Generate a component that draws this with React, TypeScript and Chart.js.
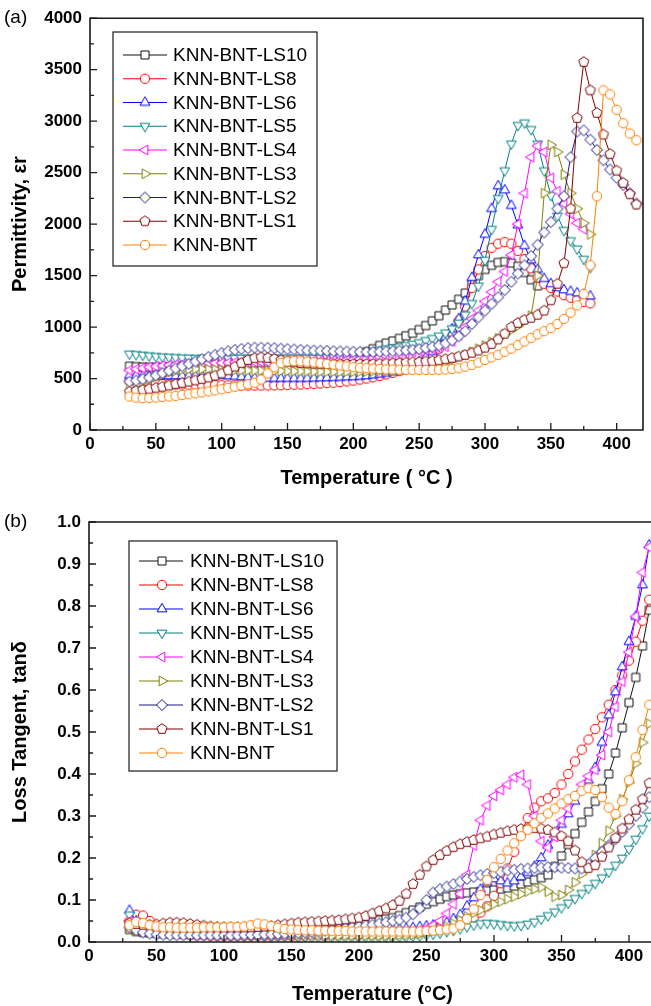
import React, { useEffect, useRef } from 'react';
import { Chart, registerables } from 'chart.js';

Chart.register(...registerables);

// ---------- DATA ----------
const TEMPS = [
  30, 35, 40, 45, 50, 55, 60, 65, 70, 75,
  80, 85, 90, 95, 100, 105, 110, 115, 120, 125,
  130, 135, 140, 145, 150, 155, 160, 165, 170, 175,
  180, 185, 190, 195, 200, 205, 210, 215, 220, 225,
  230, 235, 240, 245, 250, 255, 260, 265, 270, 275,
  280, 285, 290, 295, 300, 305, 310, 315, 320, 325,
  330, 335, 340, 345, 350, 355, 360, 365, 370, 375,
  380, 385, 390, 395, 400, 405, 410, 415,
];

const X_TICKS = [0, 50, 100, 150, 200, 250, 300, 350, 400];

const SERIES_LABELS = [
  'KNN-BNT-LS10', 'KNN-BNT-LS8', 'KNN-BNT-LS6', 'KNN-BNT-LS5', 'KNN-BNT-LS4',
  'KNN-BNT-LS3', 'KNN-BNT-LS2', 'KNN-BNT-LS1', 'KNN-BNT',
];
const SERIES_COLORS = [
  '#111111', '#FF0000', '#0000FF', '#008080', '#FF00FF',
  '#808000', '#1a1a8c', '#800000', '#FF8000',
];
const SERIES_SHAPES = [
  'square', 'circle', 'up', 'down', 'left', 'right', 'diamond', 'pentagon', 'circle',
];

// (a) Permittivity, values at TEMPS[0..]
const PERM_LS10 = [
  620, 615, 612, 610, 610, 610, 612, 615, 618, 620,
  625, 630, 632, 635, 640, 642, 645, 648, 650, 652,
  655, 657, 660, 662, 665, 667, 670, 672, 675, 678,
  682, 688, 695, 705, 718, 735, 760, 790, 822, 845,
  865, 890, 915, 940, 975, 1015, 1060, 1110, 1165, 1215,
  1270, 1330, 1420, 1500, 1560, 1600, 1628, 1635, 1622, 1590,
  1530, 1460, 1400,
];
const PERM_LS8 = [
  480, 470, 462, 455, 450, 447, 445, 443, 442, 440,
  440, 438, 437, 436, 435, 434, 433, 432, 432, 432,
  432, 433, 434, 435, 437, 440, 442, 445, 448, 452,
  456, 460, 466, 472, 480, 490, 500, 512, 525, 540,
  555, 572, 590, 612, 640, 680, 730, 790, 860, 950,
  1060, 1200, 1380, 1560, 1690, 1770, 1810, 1825, 1810, 1740,
  1660, 1570, 1480, 1420, 1380, 1345, 1310, 1285, 1262, 1245,
  1230,
];
const PERM_LS6 = [
  530, 528, 526, 525, 524, 524, 524, 524, 524, 524,
  525, 528, 530, 530, 528, 524, 520, 515, 510, 505,
  502, 500, 500, 500, 500, 500, 500, 500, 502, 504,
  506, 508, 510, 513, 516, 520, 525, 532, 540, 550,
  562, 578, 598, 625, 660, 705, 760, 830, 900, 980,
  1080, 1250, 1480, 1700, 1900, 2150, 2370, 2330, 2180, 1990,
  1790, 1650, 1560, 1470, 1420, 1380, 1360, 1345, 1330, 1315,
  1300,
];
const PERM_LS5 = [
  740, 735, 728, 722, 716, 712, 708, 705, 702, 700,
  698, 697, 696, 696, 696, 697, 698, 700, 700, 700,
  700, 700, 700, 700, 700, 700, 700, 700, 700, 702,
  705, 708, 712, 718, 725, 735, 748, 762, 778, 790,
  800, 810, 822, 835, 850, 870, 890, 915, 945, 985,
  1040, 1120, 1230, 1400, 1650, 1950, 2250, 2520, 2780, 2960,
  2985, 2920, 2780, 2520, 2280, 2080, 1940, 1840, 1760, 1660,
  1580,
];
const PERM_LS4 = [
  580, 590, 600, 610, 618, 625, 630, 635, 638, 640,
  642, 645, 648, 650, 652, 654, 656, 657, 658, 660,
  660, 660, 660, 660, 660, 662, 664, 666, 668, 670,
  672, 675, 678, 682, 686, 690, 695, 702, 710, 718,
  726, 735, 745, 755, 765, 775, 785, 795, 810, 860,
  920, 1000, 1080, 1160, 1250, 1340, 1440, 1540, 1700, 2000,
  2300, 2650, 2760, 2700, 2450, 2320, 2200, 2100, 2010, 1950,
];
const PERM_LS3 = [
  420, 440, 465, 490, 515, 540, 560, 575, 585, 590,
  592, 592, 590, 588, 585, 583, 582, 580, 578, 577,
  576, 575, 574, 573, 572, 571, 570, 569, 568, 567,
  566, 566, 566, 566, 566, 567, 568, 570, 572, 575,
  578, 582, 586, 592, 600, 612, 625, 640, 660, 680,
  705, 730, 760, 790, 820, 855, 890, 930, 970, 1010,
  1060, 1110, 1500, 2300, 2770, 2700, 2480, 2300, 2150, 2010,
  1900,
];
const PERM_LS2 = [
  470, 480, 495, 510, 530, 552, 575, 598, 620, 642,
  665, 688, 710, 730, 748, 765, 778, 788, 795, 800,
  800, 798, 795, 790, 786, 782, 778, 775, 772, 770,
  768, 766, 764, 762, 760, 759, 758, 758, 760, 763,
  766, 770, 774, 779, 786, 796, 808, 822, 842, 870,
  910, 960, 1030, 1095, 1160, 1225, 1290, 1360, 1440, 1520,
  1600, 1690, 1800, 1920, 2020, 2150, 2270, 2650, 2900, 2910,
  2820, 2720, 2620, 2530, 2450, 2380, 2300, 2200,
];
const PERM_LS1 = [
  372, 380, 390, 400, 410, 420, 432, 445, 458, 470,
  482, 495, 510, 528, 550, 580, 615, 650, 680, 698,
  705, 700, 690, 678, 666, 658, 652, 648, 645, 643,
  642, 641, 640, 640, 640, 640, 641, 642, 644, 646,
  648, 651, 654, 657, 660, 665, 670, 678, 688, 700,
  714, 730, 750, 772, 800, 835, 880, 935, 1000, 1040,
  1070, 1090, 1120, 1160, 1260, 1420, 1620, 2150, 3030, 3575,
  3300, 3080, 2870, 2680, 2520, 2400, 2290, 2190,
];
const PERM_KNN = [
  325, 315, 310, 310, 315, 320, 326, 332, 340, 348,
  356, 365, 375, 385, 396, 408, 420, 432, 445, 460,
  490, 550, 610, 650, 665, 670, 668, 664, 658, 650,
  642, 634, 626, 618, 610, 604, 600, 596, 592, 590,
  588, 586, 585, 584, 584, 584, 584, 585, 588, 593,
  600, 615, 632, 655, 680, 705, 730, 760, 790, 825,
  860, 895, 930, 960, 990, 1030, 1080, 1140, 1210, 1320,
  1600, 2270, 3300, 3260, 3110, 2980, 2880, 2815,
];

// (b) Loss tangent, values at TEMPS[0..]
const TAN_LS10 = [
  0.030, 0.025, 0.023, 0.022, 0.021, 0.020, 0.020, 0.019, 0.019, 0.019,
  0.019, 0.019, 0.019, 0.019, 0.019, 0.019, 0.019, 0.019, 0.019, 0.020,
  0.020, 0.020, 0.021, 0.021, 0.022, 0.022, 0.023, 0.024, 0.025, 0.026,
  0.028, 0.030, 0.033, 0.036, 0.040, 0.044, 0.048, 0.052, 0.055, 0.058,
  0.063, 0.070, 0.076, 0.083, 0.090, 0.096, 0.102, 0.108, 0.112, 0.115,
  0.117, 0.119, 0.120, 0.122, 0.124, 0.126, 0.129, 0.133, 0.138, 0.143,
  0.148, 0.153, 0.160, 0.180, 0.205, 0.232, 0.258, 0.285, 0.310, 0.335,
  0.365, 0.400, 0.450, 0.510, 0.570, 0.630, 0.705, 0.790,
];
const TAN_LS8 = [
  0.050, 0.065, 0.063, 0.050, 0.038, 0.030, 0.024, 0.020, 0.018, 0.017,
  0.016, 0.016, 0.015, 0.015, 0.015, 0.015, 0.015, 0.015, 0.015, 0.015,
  0.015, 0.015, 0.015, 0.015, 0.015, 0.015, 0.015, 0.016, 0.016, 0.016,
  0.017, 0.017, 0.018, 0.018, 0.019, 0.019, 0.020, 0.020, 0.021, 0.022,
  0.022, 0.023, 0.024, 0.025, 0.026, 0.027, 0.029, 0.032, 0.036, 0.040,
  0.048, 0.058, 0.070, 0.085, 0.110, 0.140, 0.175, 0.215, 0.260, 0.295,
  0.320, 0.335, 0.342, 0.355, 0.375, 0.400, 0.430, 0.458, 0.482, 0.507,
  0.535, 0.565, 0.600, 0.635, 0.670, 0.715, 0.765, 0.815,
];
const TAN_LS6 = [
  0.075, 0.050, 0.035, 0.028, 0.025, 0.023, 0.022, 0.021, 0.020, 0.020,
  0.019, 0.019, 0.019, 0.018, 0.018, 0.018, 0.018, 0.018, 0.018, 0.018,
  0.018, 0.018, 0.018, 0.018, 0.019, 0.019, 0.019, 0.020, 0.020, 0.021,
  0.021, 0.022, 0.023, 0.024, 0.025, 0.026, 0.027, 0.028, 0.029, 0.030,
  0.031, 0.032, 0.034, 0.036, 0.038, 0.040, 0.042, 0.046, 0.055, 0.065,
  0.085, 0.105, 0.125, 0.142, 0.150, 0.145, 0.140, 0.145, 0.155, 0.165,
  0.180, 0.200, 0.230, 0.255, 0.280, 0.305, 0.335, 0.365, 0.385, 0.415,
  0.475, 0.540, 0.595, 0.655, 0.715, 0.775, 0.850, 0.945,
];
const TAN_LS5 = [
  0.065, 0.050, 0.040, 0.033, 0.028, 0.025, 0.023, 0.021, 0.020, 0.019,
  0.018, 0.018, 0.017, 0.017, 0.016, 0.016, 0.016, 0.015, 0.015, 0.015,
  0.015, 0.014, 0.014, 0.014, 0.014, 0.013, 0.013, 0.013, 0.013, 0.013,
  0.013, 0.013, 0.013, 0.013, 0.013, 0.013, 0.013, 0.013, 0.013, 0.013,
  0.013, 0.013, 0.014, 0.015, 0.017, 0.019, 0.022, 0.025, 0.028, 0.032,
  0.037, 0.041, 0.044, 0.045, 0.044, 0.042, 0.040, 0.039, 0.040, 0.043,
  0.048, 0.055, 0.063, 0.072, 0.082, 0.093, 0.104, 0.116, 0.128, 0.140,
  0.153, 0.167, 0.183, 0.200, 0.222, 0.245, 0.270, 0.300,
];
const TAN_LS4 = [
  0.050, 0.045, 0.038, 0.032, 0.027, 0.023, 0.021, 0.020, 0.019, 0.019,
  0.019, 0.019, 0.019, 0.019, 0.019, 0.019, 0.019, 0.019, 0.019, 0.019,
  0.019, 0.019, 0.019, 0.019, 0.019, 0.019, 0.019, 0.019, 0.019, 0.019,
  0.020, 0.020, 0.020, 0.020, 0.020, 0.021, 0.021, 0.022, 0.022, 0.023,
  0.024, 0.025, 0.026, 0.028, 0.032, 0.040, 0.050, 0.068, 0.090, 0.115,
  0.160, 0.230, 0.290, 0.325, 0.348, 0.362, 0.375, 0.392, 0.398, 0.375,
  0.300, 0.240, 0.225, 0.250, 0.290, 0.318, 0.350, 0.375, 0.395, 0.410,
  0.445, 0.500, 0.560, 0.620, 0.690, 0.775, 0.880, 0.940,
];
const TAN_LS3 = [
  0.030, 0.028, 0.026, 0.025, 0.024, 0.023, 0.022, 0.021, 0.021, 0.020,
  0.020, 0.020, 0.020, 0.019, 0.019, 0.019, 0.019, 0.018, 0.018, 0.018,
  0.018, 0.017, 0.017, 0.017, 0.017, 0.016, 0.016, 0.016, 0.016, 0.015,
  0.015, 0.015, 0.015, 0.015, 0.015, 0.015, 0.015, 0.015, 0.015, 0.015,
  0.016, 0.016, 0.017, 0.019, 0.022, 0.026, 0.031, 0.037, 0.044, 0.052,
  0.061, 0.069, 0.076, 0.083, 0.090, 0.096, 0.102, 0.108, 0.114, 0.120,
  0.126, 0.130, 0.120, 0.108, 0.112, 0.124, 0.142, 0.162, 0.183, 0.207,
  0.235, 0.265, 0.300, 0.340, 0.380, 0.425, 0.475, 0.520,
];
const TAN_LS2 = [
  0.035, 0.028, 0.023, 0.020, 0.018, 0.017, 0.016, 0.016, 0.016, 0.016,
  0.016, 0.016, 0.016, 0.016, 0.016, 0.016, 0.016, 0.017, 0.017, 0.017,
  0.018, 0.018, 0.019, 0.020, 0.021, 0.022, 0.023, 0.024, 0.025, 0.027,
  0.029, 0.031, 0.033, 0.035, 0.037, 0.039, 0.041, 0.044, 0.047, 0.050,
  0.053, 0.058, 0.066, 0.080, 0.100, 0.118, 0.126, 0.132, 0.138, 0.144,
  0.150, 0.155, 0.159, 0.162, 0.164, 0.167, 0.170, 0.172, 0.174, 0.175,
  0.176, 0.177, 0.178, 0.178, 0.177, 0.176, 0.175, 0.175, 0.185, 0.200,
  0.215, 0.230, 0.245, 0.262, 0.280, 0.300, 0.320, 0.345,
];
const TAN_LS1 = [
  0.045, 0.043, 0.041, 0.041, 0.042, 0.044, 0.046, 0.046, 0.045, 0.043,
  0.041, 0.039, 0.037, 0.036, 0.035, 0.035, 0.035, 0.035, 0.035, 0.036,
  0.037, 0.038, 0.040, 0.042, 0.044, 0.046, 0.047, 0.048, 0.049, 0.050,
  0.051, 0.052, 0.054, 0.056, 0.058, 0.062, 0.068, 0.074, 0.080, 0.088,
  0.098, 0.115, 0.138, 0.160, 0.180, 0.195, 0.207, 0.217, 0.226, 0.233,
  0.238, 0.243, 0.247, 0.251, 0.256, 0.260, 0.264, 0.267, 0.269, 0.270,
  0.271, 0.270, 0.267, 0.261, 0.252, 0.240, 0.218, 0.190, 0.176, 0.183,
  0.203, 0.225, 0.248, 0.270, 0.292, 0.315, 0.340, 0.378,
];
const TAN_KNN = [
  0.040, 0.048, 0.045, 0.040, 0.037, 0.035, 0.035, 0.034, 0.034, 0.034,
  0.034, 0.035, 0.035, 0.035, 0.035, 0.036, 0.036, 0.037, 0.040, 0.044,
  0.042, 0.038, 0.034, 0.031, 0.030, 0.029, 0.028, 0.028, 0.027, 0.027,
  0.026, 0.026, 0.026, 0.025, 0.025, 0.025, 0.025, 0.025, 0.025, 0.025,
  0.025, 0.025, 0.025, 0.025, 0.026, 0.027, 0.028, 0.030, 0.032, 0.040,
  0.055, 0.078, 0.112, 0.148, 0.178, 0.198, 0.218, 0.235, 0.252, 0.267,
  0.283, 0.295, 0.306, 0.318, 0.330, 0.340, 0.348, 0.360, 0.366, 0.362,
  0.345, 0.320, 0.305, 0.335, 0.385, 0.440, 0.505, 0.565,
];

const PERM_SERIES = [PERM_LS10, PERM_LS8, PERM_LS6, PERM_LS5, PERM_LS4, PERM_LS3, PERM_LS2, PERM_LS1, PERM_KNN];
const TAN_SERIES = [TAN_LS10, TAN_LS8, TAN_LS6, TAN_LS5, TAN_LS4, TAN_LS3, TAN_LS2, TAN_LS1, TAN_KNN];

const X_MIN = 0;
const X_MAX = 420;
const X_STEP = 50;
const PERM_MAX = 4000;
const PERM_STEP = 500;
const TAN_MAX = 1.0;
const TAN_STEP = 0.1;

const FONT = '"Liberation Sans", Arial, Helvetica, sans-serif';

// ---------- MARKERS ----------
function makeMarker(shape: string, color: string): HTMLCanvasElement {
  const s = 14;
  const c = document.createElement('canvas');
  c.width = s;
  c.height = s;
  const ctx = c.getContext('2d')!;
  const cx = s / 2;
  const cy = s / 2;
  ctx.lineWidth = 1;
  ctx.strokeStyle = color;
  ctx.fillStyle = '#ffffff';
  ctx.beginPath();
  const poly = (n: number, r: number, startDeg: number) => {
    for (let k = 0; k < n; k++) {
      const a = ((startDeg + (360 / n) * k) * Math.PI) / 180;
      const px = cx + r * Math.cos(a);
      const py = cy + r * Math.sin(a);
      if (k === 0) ctx.moveTo(px, py);
      else ctx.lineTo(px, py);
    }
    ctx.closePath();
  };
  switch (shape) {
    case 'circle':
      ctx.arc(cx, cy, 4.7, 0, Math.PI * 2);
      break;
    case 'square':
      ctx.rect(cx - 4, cy - 4, 8, 8);
      break;
    case 'up':
      poly(3, 5.7, -90);
      break;
    case 'down':
      poly(3, 5.7, 90);
      break;
    case 'left':
      poly(3, 5.7, 180);
      break;
    case 'right':
      poly(3, 5.7, 0);
      break;
    case 'diamond':
      poly(4, 5.5, -90);
      break;
    case 'pentagon':
      poly(5, 5.3, -90);
      break;
  }
  ctx.fill();
  ctx.stroke();
  return c;
}

function buildDatasets(series: number[][], markers: HTMLCanvasElement[]) {
  return series.map((vals, i) => ({
    label: SERIES_LABELS[i],
    data: vals.map((v, k) => ({ x: TEMPS[k], y: v })),
    borderColor: SERIES_COLORS[i],
    backgroundColor: SERIES_COLORS[i],
    borderWidth: 1,
    pointStyle: markers[i],
    pointRadius: 5,
    pointHoverRadius: 5,
    tension: 0,
    fill: false,
    order: series.length - i,
  }));
}

type FrameOpts = {
  tag: string;
  tagY: number;
  xMinorStep: number;
  yMajorStep: number;
  yMinorStep: number;
  yMax: number;
  legend: {
    x: number; y: number; w: number; h: number;
    firstRow: number; gap: number;
    lineX1: number; lineX2: number; markerX: number; textX: number; fontSize: number;
  };
};

function framePlugin(opts: FrameOpts, markers: HTMLCanvasElement[]) {
  return {
    id: 'frameAndLegend',
    afterDraw(chart: any) {
      const ctx = chart.ctx as CanvasRenderingContext2D;
      const a = chart.chartArea;
      const xs = chart.scales.x;
      const ys = chart.scales.y;
      ctx.save();
      // frame
      ctx.strokeStyle = '#1a1a1a';
      ctx.lineWidth = 1.6;
      ctx.beginPath();
      ctx.rect(a.left, a.top, a.right - a.left, a.bottom - a.top);
      ctx.stroke();
      // inside ticks
      ctx.lineWidth = 1.3;
      ctx.beginPath();
      for (let v = X_MIN; v <= X_MAX + 1e-9; v += opts.xMinorStep) {
        const px = xs.getPixelForValue(v);
        const major = Math.abs(v % X_STEP) < 1e-6;
        const len = major ? 7 : 4;
        ctx.moveTo(px, a.bottom);
        ctx.lineTo(px, a.bottom - len);
      }
      const nMinor = Math.round(opts.yMax / opts.yMinorStep);
      for (let k = 0; k <= nMinor; k++) {
        const v = k * opts.yMinorStep;
        const py = ys.getPixelForValue(v);
        const major = k % Math.round(opts.yMajorStep / opts.yMinorStep) === 0;
        const len = major ? 7 : 4;
        ctx.moveTo(a.left, py);
        ctx.lineTo(a.left + len, py);
      }
      ctx.stroke();

      // panel tag
      ctx.fillStyle = '#000';
      ctx.font = `19px ${FONT}`;
      ctx.textBaseline = 'middle';
      ctx.textAlign = 'left';
      ctx.fillText(opts.tag, 4, opts.tagY);

      // legend
      const L = opts.legend;
      ctx.fillStyle = '#ffffff';
      ctx.fillRect(L.x, L.y, L.w, L.h);
      ctx.strokeStyle = '#1a1a1a';
      ctx.lineWidth = 1.2;
      ctx.strokeRect(L.x, L.y, L.w, L.h);
      const ds = chart.data.datasets;
      ctx.font = `${L.fontSize}px ${FONT}`;
      for (let i = 0; i < ds.length; i++) {
        const y = L.firstRow + i * L.gap;
        ctx.strokeStyle = ds[i].borderColor;
        ctx.lineWidth = 1.2;
        ctx.beginPath();
        ctx.moveTo(L.lineX1, y);
        ctx.lineTo(L.lineX2, y);
        ctx.stroke();
        const m = markers[i];
        ctx.drawImage(m, L.markerX - m.width / 2, y - m.height / 2);
        ctx.fillStyle = '#000';
        ctx.fillText(ds[i].label, L.textX, y + 1);
      }
      ctx.restore();
    },
  };
}

function makeOptions(cfg: {
  padTop: number; padRight: number; yWidth: number; xHeight: number;
  yMax: number; yStep: number; yTitle: string; xTitle: string;
  xTitleBottom: number; yFmt: (v: number) => string;
}) {
  const tickFont = { family: FONT, size: 17, weight: 'bold' as const };
  const titleFont = { family: FONT, size: 20, weight: 'bold' as const };
  return {
    animation: false as const,
    responsive: false,
    maintainAspectRatio: false,
    events: [] as any[],
    layout: { padding: { left: 0, top: cfg.padTop, right: cfg.padRight, bottom: 0 } },
    plugins: { legend: { display: false }, tooltip: { enabled: false } },
    scales: {
      x: {
        type: 'linear' as const,
        min: X_MIN,
        max: X_MAX,
        afterBuildTicks: (s: any) => {
          s.ticks = X_TICKS.map((v) => ({ value: v }));
        },
        afterFit: (s: any) => { s.height = cfg.xHeight; },
        ticks: { stepSize: X_STEP, font: tickFont, color: '#000', padding: 4, maxRotation: 0, autoSkip: false },
        grid: { display: false, drawTicks: false },
        border: { display: false },
        title: { display: true, text: cfg.xTitle, font: titleFont, color: '#000', padding: { top: 0, bottom: cfg.xTitleBottom } },
      },
      y: {
        type: 'linear' as const,
        min: 0,
        max: cfg.yMax,
        afterFit: (s: any) => { s.width = cfg.yWidth; },
        ticks: { stepSize: cfg.yStep, font: tickFont, color: '#000', padding: 8, callback: (v: any) => cfg.yFmt(Number(v)) },
        grid: { display: false, drawTicks: false },
        border: { display: false },
        title: { display: true, text: cfg.yTitle, font: titleFont, color: '#000', padding: { top: 8, bottom: 0 } },
      },
    },
  };
}

export default function App() {
  const topRef = useRef<HTMLCanvasElement | null>(null);
  const botRef = useRef<HTMLCanvasElement | null>(null);

  useEffect(() => {
    const markers = SERIES_SHAPES.map((s, i) => makeMarker(s, SERIES_COLORS[i]));

    const top = new Chart(topRef.current!, {
      type: 'line',
      data: { datasets: buildDatasets(PERM_SERIES, markers) as any },
      options: makeOptions({
        padTop: 18, padRight: 8, yWidth: 90, xHeight: 70,
        yMax: PERM_MAX, yStep: PERM_STEP,
        yTitle: 'Permittivity, εr', xTitle: 'Temperature ( °C )', xTitleBottom: 10,
        yFmt: (v) => String(Math.round(v)),
      }) as any,
      plugins: [framePlugin({
        tag: '(a)', tagY: 18, xMinorStep: 25, yMajorStep: 500, yMinorStep: 250, yMax: PERM_MAX,
        legend: { x: 113, y: 32, w: 204, h: 234, firstRow: 55, gap: 23.75, lineX1: 123, lineX2: 167, markerX: 145, textX: 173, fontSize: 19 },
      }, markers)],
    });

    const bot = new Chart(botRef.current!, {
      type: 'line',
      data: { datasets: buildDatasets(TAN_SERIES, markers) as any },
      options: makeOptions({
        padTop: 22, padRight: 14, yWidth: 89, xHeight: 64,
        yMax: TAN_MAX, yStep: TAN_STEP,
        yTitle: 'Loss Tangent, tanδ', xTitle: 'Temperature (°C)', xTitleBottom: 0,
        yFmt: (v) => v.toFixed(1),
      }) as any,
      plugins: [framePlugin({
        tag: '(b)', tagY: 22, xMinorStep: 25, yMajorStep: 0.1, yMinorStep: 0.05, yMax: TAN_MAX,
        legend: { x: 129, y: 41, w: 208, h: 230, firstRow: 61, gap: 24, lineX1: 139, lineX2: 183, markerX: 162, textX: 190, fontSize: 19 },
      }, markers)],
    });

    return () => {
      top.destroy();
      bot.destroy();
    };
  }, []);

  return (
    <div style={{ position: 'fixed', left: 0, top: 0, width: 651, height: 1006, overflow: 'hidden', background: '#fff' }}>
      <canvas ref={topRef} width={651} height={500} style={{ position: 'absolute', left: 0, top: 0 }} />
      <canvas ref={botRef} width={670} height={506} style={{ position: 'absolute', left: 0, top: 500 }} />
    </div>
  );
}
